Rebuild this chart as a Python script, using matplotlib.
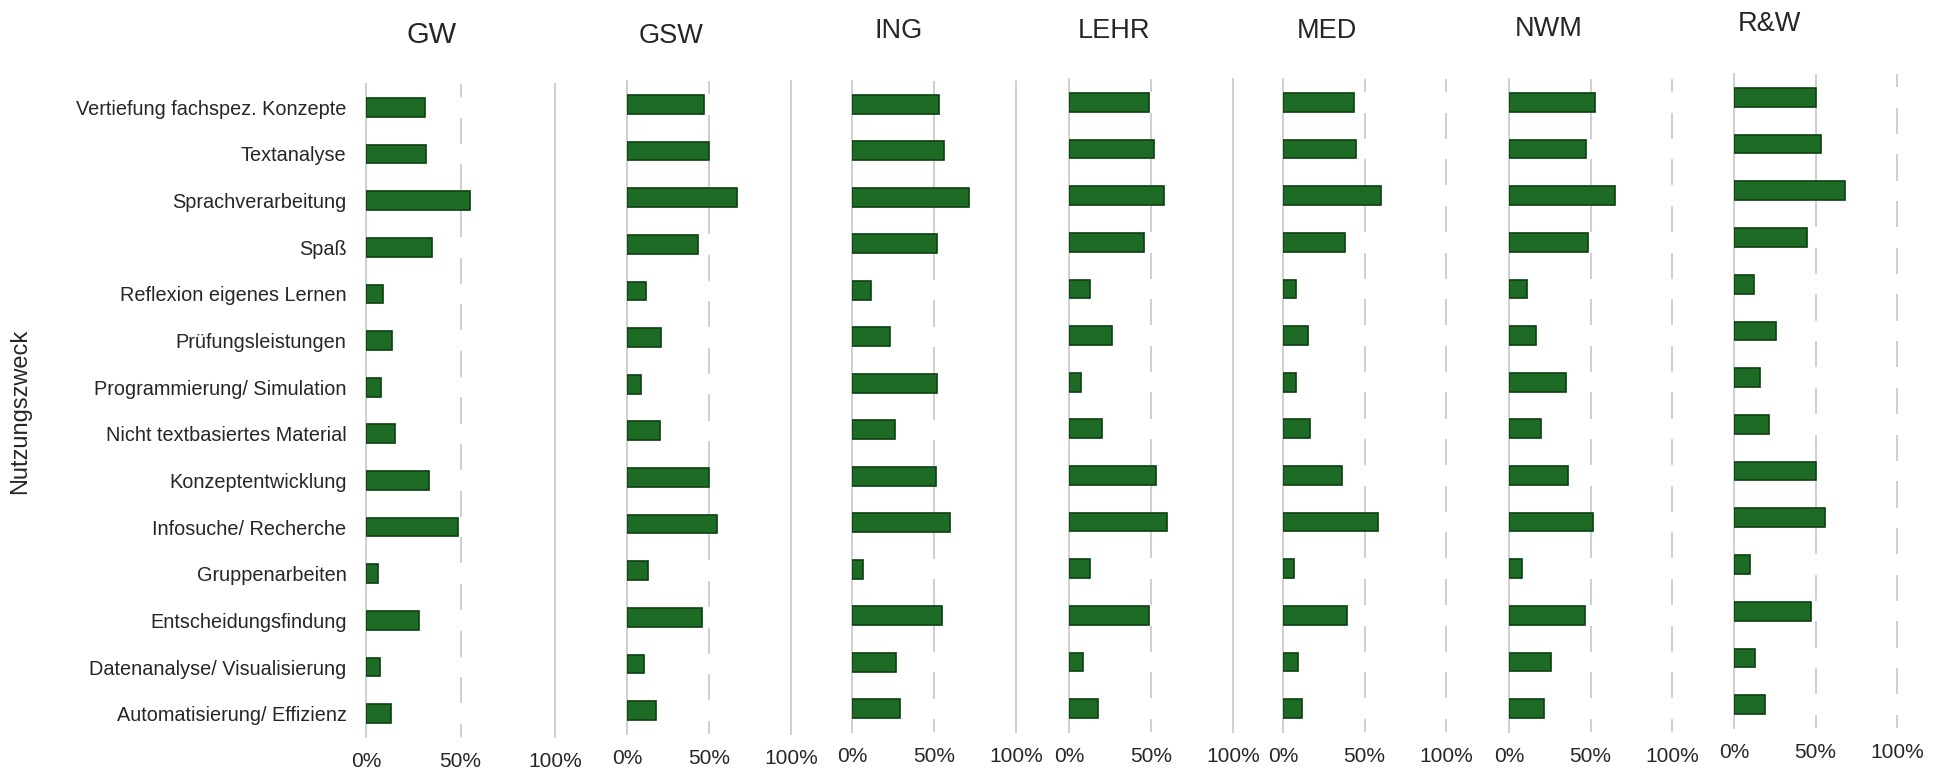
import matplotlib
matplotlib.use("Agg")
import matplotlib.pyplot as plt

plt.rcParams['font.family'] = ['Liberation Sans', 'DejaVu Sans']

# Daten (Anteile in %)
kategorien = [
    "Vertiefung fachspez. Konzepte", "Textanalyse", "Sprachverarbeitung", "Spaß",
    "Reflexion eigenes Lernen", "Prüfungsleistungen", "Programmierung/ Simulation",
    "Nicht textbasiertes Material", "Konzeptentwicklung", "Infosuche/ Recherche",
    "Gruppenarbeiten", "Entscheidungsfindung", "Datenanalyse/ Visualisierung",
    "Automatisierung/ Effizienz",
]
gruppen = ["GW", "GSW", "ING", "LEHR", "MED", "NWM", "R&W"]

gw   = [31, 32, 55, 35, 9, 13.5, 8, 15.5, 33.5, 48.5, 6.5, 28, 7.5, 13]
gsw  = [47, 50, 67, 43.5, 11.5, 21, 8.5, 20, 50, 55, 12.5, 46, 10.5, 17.5]
ing  = [53, 56, 71.5, 52, 11.5, 23, 52, 26, 51, 60, 7, 55, 27, 29]
lehr = [49, 52, 58, 46, 12.5, 26, 7.5, 20, 53, 59.5, 12.5, 49, 8.5, 17.5]
med  = [43.5, 44.5, 60, 38, 8, 15.5, 8, 16.5, 36, 58, 7, 39.5, 9.5, 11.5]
nwm  = [52.5, 47.5, 65, 48.5, 11, 16.5, 35, 19.5, 36, 51.5, 8, 46.5, 25.5, 21.5]
rw   = [50.5, 53.5, 68, 44.5, 12, 25.5, 16, 21.5, 50.5, 56, 10, 47.5, 13, 19]
werte = [gw, gsw, ing, lehr, med, nwm, rw]

xticks = [0, 50, 100]
xticklabels = ["0%", "50%", "100%"]

# Layout in Pixeln: (x 0%, x 100%, oben, unten)
W, H = 1948, 778
panels = [(366, 555, 84, 737), (627, 791, 81, 734), (852, 1016, 81, 732),
          (1069, 1233, 79, 732), (1283, 1446, 79, 732), (1509, 1672, 79, 732),
          (1734, 1897, 74, 728)]
titel_pos = [(432, 35), (671, 36), (899, 31), (1114, 31), (1327, 31), (1549, 29), (1769, 24)]
# Gitterlinien: True = durchgehend, False = gestrichelt
gitter = [(True, False, True)] * 4 + [(True, False, False)] * 3

gruen = '#1e6b26'
rand = '#0b4010'
grau = '#cccccc'
text = '#262626'

fig = plt.figure(figsize=(W / 100, H / 100), dpi=100)

n = len(kategorien)
y = list(range(n))
gap = 0.22

for i, (name, vals) in enumerate(zip(gruppen, werte)):
    x0, x1, top, bot = panels[i]
    ax = fig.add_axes([x0 / W, 1 - bot / H, (x1 - x0) / W, (bot - top) / H])
    ax.barh(y, vals, height=0.40, color=gruen, edgecolor=rand, linewidth=1.2, zorder=3)
    ax.set_xlim(0, 100)
    ax.set_ylim(n - 0.5, -0.5)
    for s in ax.spines.values():
        s.set_visible(False)

    # Gitterlinien
    for xv, solid in zip(xticks, gitter[i]):
        if solid:
            ax.axvline(xv, color=grau, lw=1.3, zorder=1, clip_on=False)
        else:
            ymins = [-0.5] + [k + gap for k in range(n)]
            ymaxs = [k - gap for k in range(n)] + [n - 0.5]
            ax.vlines([xv] * len(ymins), ymins, ymaxs, color=grau, lw=1.3,
                      zorder=1, clip_on=False)

    ax.set_xticks(xticks)
    ax.set_xticklabels(xticklabels, fontsize=15, color=text)
    ax.tick_params(axis='x', length=0, pad=11)
    if i == 0:
        ax.set_yticks(y)
        ax.set_yticklabels(kategorien, fontsize=14.3, color=text)
        ax.tick_params(axis='y', length=0, pad=14)
    else:
        ax.set_yticks([])

    tx, ty = titel_pos[i]
    groesse = 21 if i == 0 else 19.5
    fig.text(tx / W, 1 - ty / H, name, ha='center', va='center', fontsize=groesse, color=text)

fig.text(20 / W, 1 - 411 / H, "Nutzungszweck", rotation=90, ha='center', va='center',
         fontsize=17, color=text)

fig.savefig("out.png", dpi=100, facecolor='white')
